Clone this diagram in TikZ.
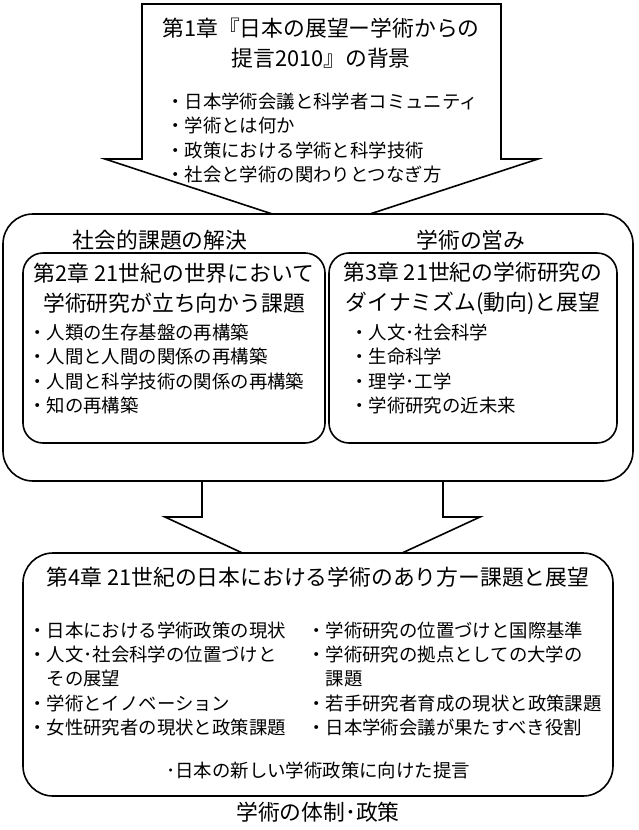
\documentclass[tikz,border=0pt]{standalone}
\usepackage{fontspec}
\setmainfont{Noto Sans CJK JP}
\usetikzlibrary{positioning}

\begin{document}
\begin{tikzpicture}
  [x=1pt,y=-1pt,every node/.style={inner sep=0pt},
   title/.style={font=\fontsize{21.8}{30}\selectfont,align=center},
   items/.style={font=\fontsize{18.4}{24.3}\selectfont,align=left,anchor=west},
   frame/.style={draw,line width=1.6pt,fill=white},
   blockarrow/.style={draw,line width=1.6pt,fill=white,line join=miter}]
  \useasboundingbox (0,0) rectangle (638,830);

  % chapter 1
  \draw[blockarrow] (142,4) -- (501,4) -- (501,159) -- (538,159)
    -- (321,230) -- (105,159) -- (142,159) -- cycle;
  \node[title] (ch1) at (321,43) {第1章『日本の展望ー学術からの\\提言2010』の背景};
  \node[items] (ch1list) at (166,138) {・日本学術会議と科学者コミュニティ\\・学術とは何か\\・政策における学術と科学技術\\・社会と学術の関わりとつなぎ方};

  % arrow to chapter 4
  \draw[blockarrow] (202,470) -- (443,470) -- (443,517) -- (480,517)
    -- (322,590) -- (165,517) -- (202,517) -- cycle;

  % chapters 2 and 3
  \draw[frame,rounded corners=30pt] (3,214) rectangle (633,481);
  \draw[frame,rounded corners=20pt] (23,253) rectangle (325,443);
  \draw[frame,rounded corners=20pt] (329,253) rectangle (617,443);
  \node[title] (social) at (160,240) {社会的課題の解決};
  \node[title] (gaku) at (471,240) {学術の営み};
  \node[title] (ch2) at (174,288) {第2章 21世紀の世界において\\学術研究が立ち向かう課題};
  \node[title] (ch3) at (473,288) {第3章 21世紀の学術研究の\\ダイナミズム(動向)と展望};
  \node[items] (ch2list) at (28,369) {・人類の生存基盤の再構築\\・人間と人間の関係の再構築\\・人間と科学技術の関係の再構築\\・知の再構築};
  \node[items] (ch3list) at (350,369) {・人文･社会科学\\・生命科学\\・理学･工学\\・学術研究の近未来};

  % chapter 4
  \draw[frame,rounded corners=30pt] (23,553) rectangle (613,796);
  \node[title] (ch4) at (318,577) {第4章 21世紀の日本における学術のあり方ー課題と展望};
  \node[items] (ch4left) at (28,679) {・日本における学術政策の現状\\・人文･社会科学の位置づけと\\　その展望\\・学術とイノベーション\\・女性研究者の現状と政策課題};
  \node[items] (ch4right) at (307,679) {・学術研究の位置づけと国際基準\\・学術研究の拠点としての大学の\\　課題\\・若手研究者育成の現状と政策課題\\・日本学術会議が果たすべき役割};
  \node[items,anchor=center] (teigen) at (318,770) {･日本の新しい学術政策に向けた提言};
  \node[title] (policy) at (318,812) {学術の体制･政策};
\end{tikzpicture}
\end{document}
